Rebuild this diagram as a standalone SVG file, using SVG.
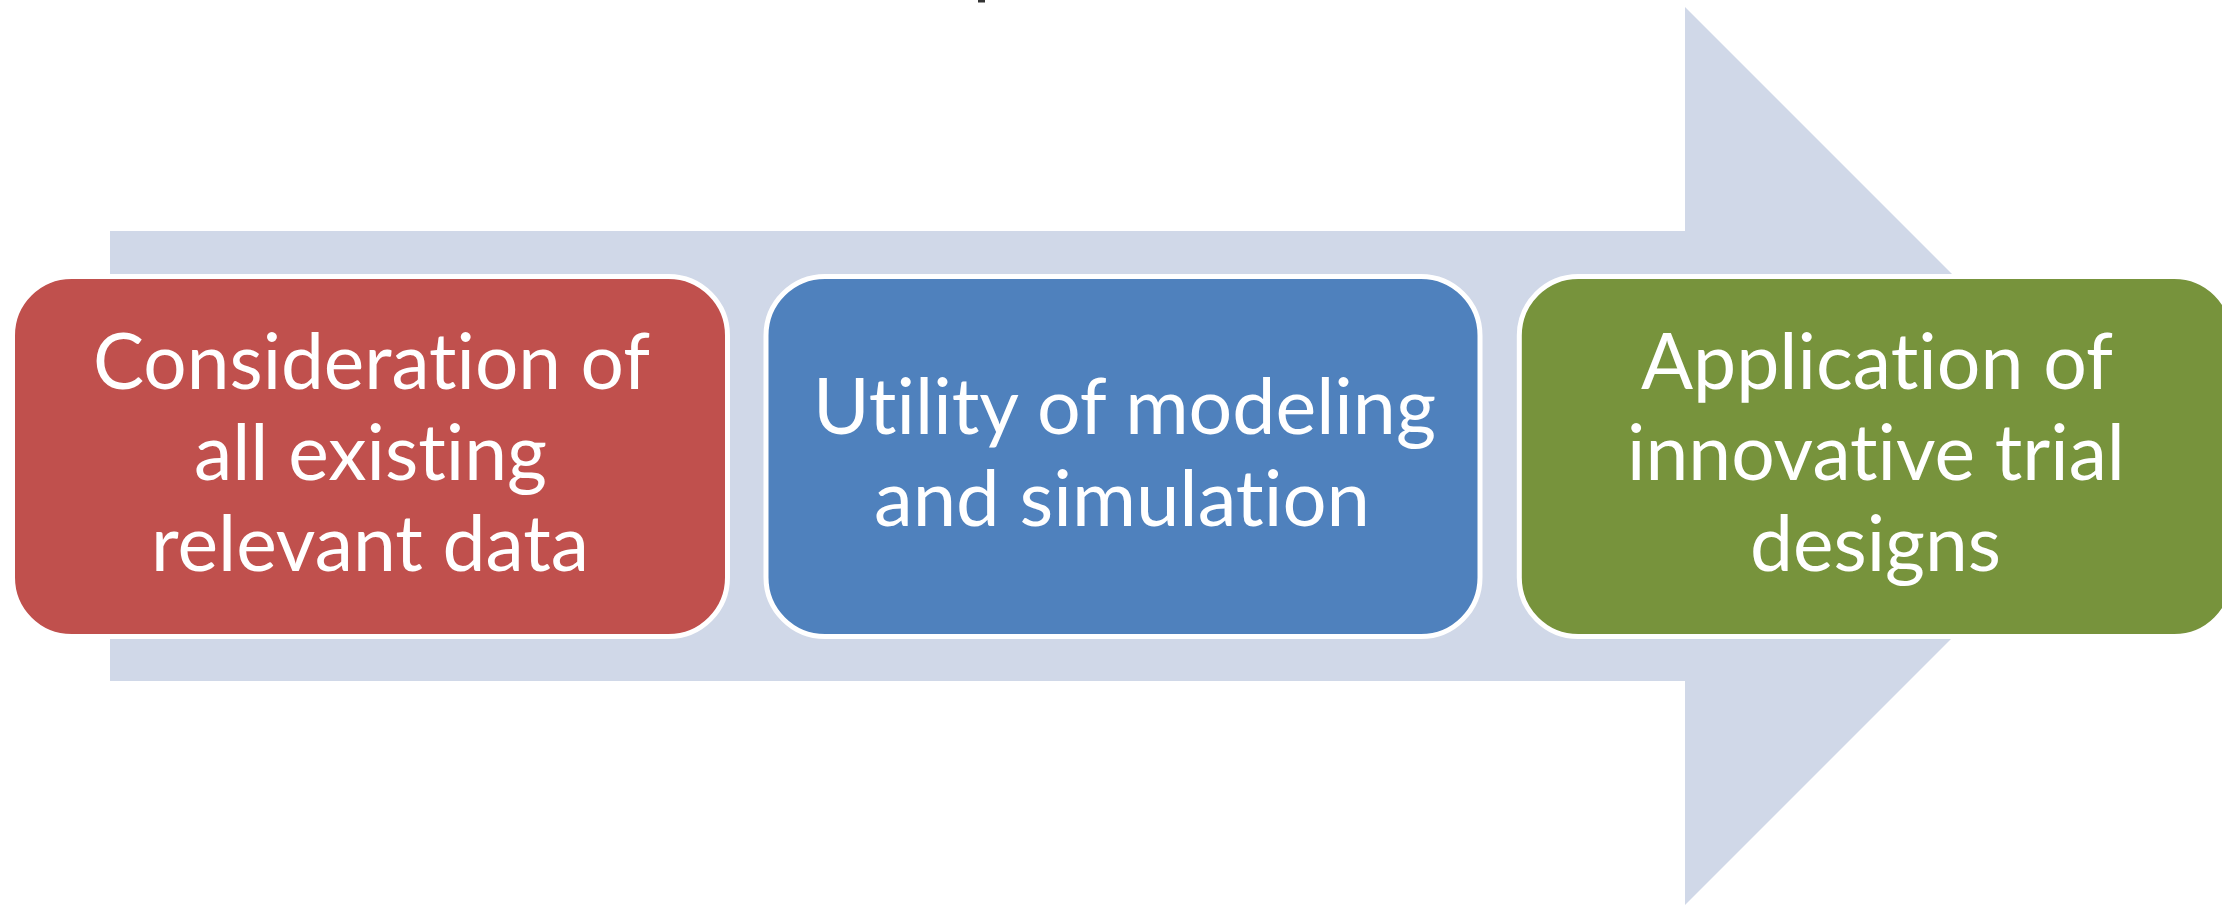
<svg xmlns="http://www.w3.org/2000/svg" width="2222" height="905" viewBox="0 0 2222 905">
  <style>
    .box { stroke: #FFFFFF; stroke-width: 5; }
    .lbl { font-family: Lato, "Open Sans", "Liberation Sans", sans-serif; font-size: 78px; fill: #FFFFFF; font-variant-ligatures: none; font-feature-settings: "liga" 0, "clig" 0, "dlig" 0; }
  </style>
  <rect x="0" y="0" width="2222" height="905" fill="#FFFFFF"/>
  <rect x="978" y="0" width="7" height="2.5" fill="#333333"/>
  <g id="connectors">
    <polygon id="arrow" points="110,231 1685,231 1685,7 2134,456 1685,905 1685,681 110,681" fill="#D0D8E8"/>
  </g>
  <g id="node1">
    <rect class="box" x="12.5" y="276.5" width="715" height="360" rx="59" ry="59" fill="#C0504D"/>
    <text class="lbl" x="93" y="389" textLength="557" lengthAdjust="spacingAndGlyphs">Consideration of</text>
    <text class="lbl" x="194" y="480" textLength="353" lengthAdjust="spacingAndGlyphs">all existing</text>
    <text class="lbl" x="151" y="571" textLength="438" lengthAdjust="spacingAndGlyphs">relevant data</text>
  </g>
  <g id="node2">
    <rect class="box" x="766" y="276.5" width="714" height="360" rx="59" ry="59" fill="#4F81BD"/>
    <text class="lbl" x="813" y="434" textLength="623" lengthAdjust="spacingAndGlyphs">Utility of modeling</text>
    <text class="lbl" x="874" y="525.5" textLength="496" lengthAdjust="spacingAndGlyphs">and simulation</text>
  </g>
  <g id="node3">
    <rect class="box" x="1519.3" y="276.5" width="714" height="360" rx="59" ry="59" fill="#77933C"/>
    <text class="lbl" x="1641" y="389" textLength="472" lengthAdjust="spacingAndGlyphs">Application of</text>
    <text class="lbl" x="1627" y="480" textLength="498" lengthAdjust="spacingAndGlyphs">innovative trial</text>
    <text class="lbl" x="1750" y="571" textLength="251" lengthAdjust="spacingAndGlyphs">designs</text>
  </g>
</svg>
